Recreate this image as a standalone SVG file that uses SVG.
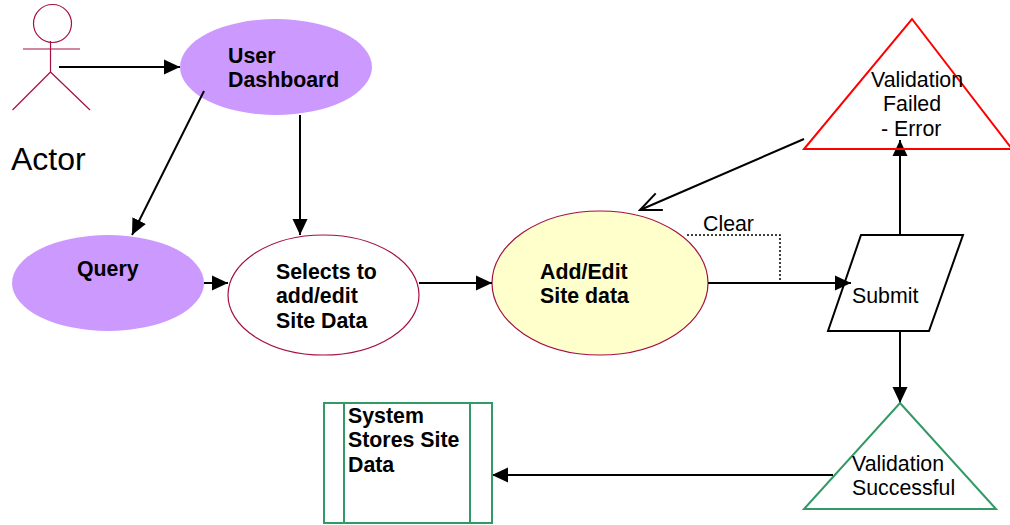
<svg xmlns="http://www.w3.org/2000/svg" width="1010" height="525" viewBox="0 0 1010 525">
<style>
text{font-family:"Liberation Sans",Arial,sans-serif;font-size:21.330px;fill:#000}
.b{font-weight:bold}
.c{stroke:#000;stroke-width:2;fill:none}
.m{stroke:#a50f43;stroke-width:1.200;fill:none}
.p{fill:#cc99ff;stroke:none}
</style>
<defs>
<marker id="a" markerUnits="userSpaceOnUse" markerWidth="17" markerHeight="16" refX="16" refY="8" orient="auto"><path d="M0 0.500L16 8L0 15.500Z" fill="#000"/></marker>
<marker id="o" markerUnits="userSpaceOnUse" markerWidth="26" markerHeight="24" refX="24" refY="12" orient="auto"><path d="M3 3L24 12L3 21" fill="none" stroke="#000" stroke-width="2"/></marker>
</defs>
<rect width="1010" height="525" fill="#fff"/>
<g id="actor">
<circle class="m" cx="52.500" cy="23.500" r="19"/>
<path class="m" d="M23 49H80M50.500 41V72M50.500 72L12.500 110M50.500 72L90 110"/>
<text x="11" y="170" style="font-size:32px">Actor</text>
</g>
<g id="user-dashboard">
<ellipse class="p" cx="276" cy="67" rx="96" ry="48"/>
<text class="b" x="228" y="63">User</text>
<text class="b" x="228" y="87">Dashboard</text>
</g>
<g id="query">
<ellipse class="p" cx="108" cy="283" rx="96" ry="48"/>
<text class="b" x="77" y="276">Query</text>
</g>
<g id="selects">
<ellipse class="m" cx="323.500" cy="295" rx="95.500" ry="60" fill="#fff"/>
<text class="b" x="276" y="279">Selects to</text>
<text class="b" x="276" y="303">add/edit</text>
<text class="b" x="276" y="328">Site Data</text>
</g>
<g id="add-edit">
<ellipse cx="600" cy="283" rx="108" ry="72" fill="#ffffcc" stroke="#a50f43" stroke-width="1.200"/>
<text class="b" x="540" y="279">Add/Edit</text>
<text class="b" x="540" y="303">Site data</text>
</g>
<g id="submit">
<path d="M861 235H963L929 331H828Z" fill="#fff" stroke="#000" stroke-width="2"/>
<text x="852" y="303">Submit</text>
</g>
<g id="connectors">
<path class="c" marker-end="url(#a)" d="M59 67H180"/>
<path class="c" marker-end="url(#a)" d="M204 91L132 235"/>
<path class="c" marker-end="url(#a)" d="M300 115V235"/>
<path class="c" marker-end="url(#a)" d="M204 283H228"/>
<path class="c" marker-end="url(#a)" d="M419 283H492"/>
<path class="c" marker-end="url(#a)" d="M708 283H851"/>
<path d="M687 235H780V283" fill="none" stroke="#000" stroke-width="1.500" stroke-dasharray="2 2"/>
<path class="c" marker-end="url(#a)" d="M900 235V140"/>
<path class="c" marker-end="url(#o)" d="M804 139L640 210"/>
<path class="c" marker-end="url(#a)" d="M900 331V403"/>
<path class="c" marker-end="url(#a)" d="M833 475H492"/>
</g>
<g id="validation-failed">
<path d="M912 19L1012 149H804Z" fill="none" stroke="#ff0000" stroke-width="2"/>
<text x="871" y="87">Validation</text>
<text x="883" y="111">Failed</text>
<text x="881" y="136">- Error</text>
</g>
<g id="validation-successful">
<path d="M900 403L996 509H804Z" fill="none" stroke="#339966" stroke-width="2"/>
<text x="852" y="471">Validation</text>
<text x="852" y="495">Successful</text>
</g>
<g id="system-stores">
<path d="M324 403H492V523H324ZM344 403V523M470 403V523" fill="none" stroke="#339966" stroke-width="2"/>
<text class="b" x="348" y="423">System</text>
<text class="b" x="348" y="447">Stores Site</text>
<text class="b" x="348" y="472">Data</text>
</g>
<text x="703" y="231">Clear</text>
</svg>
